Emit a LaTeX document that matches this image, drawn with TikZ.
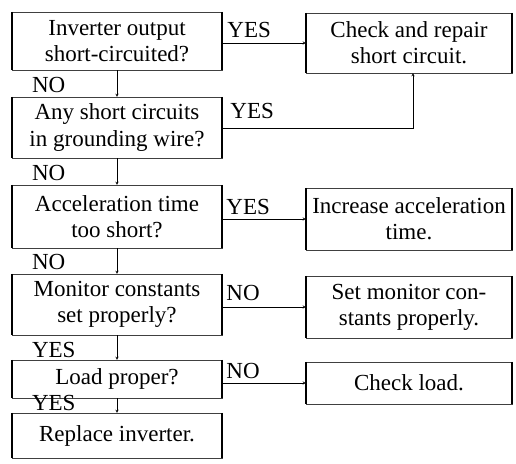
\documentclass[tikz,border=0pt]{standalone}
\usepackage{fontspec}
\setmainfont{Liberation Serif}
\begin{document}
\begin{tikzpicture}[x=1pt,y=-1pt,
    box/.style={draw=black!75, line width=0.4pt, align=center, inner sep=0pt,
      font=\fontsize{23}{26}\selectfont},
    lbl/.style={inner sep=0pt, font=\fontsize{23}{26}\selectfont},
    >=stealth]
    \useasboundingbox (0,0) rectangle (516,463);

    % Checks on the left
    \node[box, minimum width=210, minimum height=58] (q1) at (117,41) {Inverter output\\short-circuited?};
    \node[box, minimum width=210, minimum height=61] (q2) at (117,127.5) {Any short circuits\\in grounding wire?};
    \node[box, minimum width=210, minimum height=63] (q3) at (117,216.5) {Acceleration time\\too short?};
    \node[box, minimum width=210, minimum height=61] (q4) at (117,304.5) {Monitor constants\\set properly?};
    \node[box, minimum width=210, minimum height=38] (q5) at (117,379) {Load proper?};
    \node[box, minimum width=210, minimum height=45] (q6) at (117,435.5) {Replace inverter.};

    % Remedies on the right
    \node[box, minimum width=206, minimum height=60] (fix1) at (409,43) {Check and repair\\short circuit.};
    \node[box, minimum width=206, minimum height=62] (fix2) at (409,219) {Increase acceleration\\time.};
    \node[box, minimum width=206, minimum height=62] (fix3) at (409,307) {Set monitor con-\\stants properly.};
    \node[box, minimum width=206, minimum height=42] (fix4) at (409,383) {Check load.};

    % Thick bracket sides
    \foreach \n in {q1,q2,q3,q4,q5,q6,fix1,fix2,fix3,fix4} {
      \draw[line width=2pt] (\n.north west) -- (\n.south west);
      \draw[line width=2pt] (\n.north east) -- (\n.south east);
    }

    % Down the chain
    \draw[->] (q1.south) -- (q2.north);
    \draw[->] (q2.south) -- (q3.north);
    \draw[->] (q3.south) -- (q4.north);
    \draw[->] (q4.south) -- (q5.north);
    \draw[->] (q5.south) -- (q6.north);
    \node[lbl, anchor=south west] at ([xshift=20,yshift=4]q2.north west) {NO};
    \node[lbl, anchor=south west] at ([xshift=20,yshift=4]q3.north west) {NO};
    \node[lbl, anchor=south west] at ([xshift=20,yshift=4]q4.north west) {NO};
    \node[lbl, anchor=south west] at ([xshift=20,yshift=2]q5.north west) {YES};
    \node[lbl, anchor=south west] at ([xshift=20,yshift=2]q6.north west) {YES};

    % Across to the remedies
    \coordinate (y1) at (fix1.west -| q1.east);
    \coordinate (y2) at (q2.east |- 0,128);
    \coordinate (y3) at (fix2.west -| q3.east);
    \coordinate (y4) at (fix3.west -| q4.east);
    \coordinate (y5) at (fix4.west -| q5.east);
    \draw[->] (y1) -- (fix1.west);
    \draw[->] (y2) -| ([xshift=4]fix1.south);
    \draw[->] (y3) -- (fix2.west);
    \draw[->] (y4) -- (fix3.west);
    \draw[->] (y5) -- (fix4.west);
    \node[lbl, anchor=south west] at ([xshift=5,yshift=5]y1) {YES};
    \node[lbl, anchor=south west] at ([xshift=8,yshift=9]y2) {YES};
    \node[lbl, anchor=south west] at ([xshift=4,yshift=4]y3) {YES};
    \node[lbl, anchor=south west] at ([xshift=4,yshift=6]y4) {NO};
    \node[lbl, anchor=south west] at ([xshift=4,yshift=4]y5) {NO};
\end{tikzpicture}
\end{document}
